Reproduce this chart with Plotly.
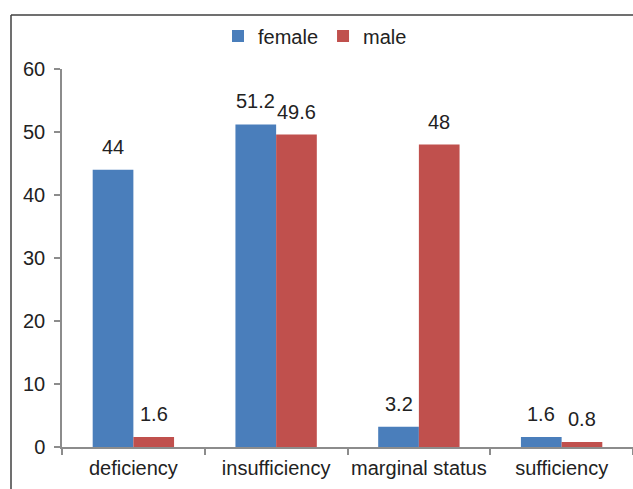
import plotly.graph_objects as go

categories = ["deficiency", "insufficiency", "marginal status", "sufficiency"]
female = [44, 51.2, 3.2, 1.6]
male = [1.6, 49.6, 48, 0.8]
y_ticks = [0, 10, 20, 30, 40, 50, 60]

W, H = 633, 489
plot_left, plot_right, plot_top, plot_bottom = 62, 633, 69, 447
L = plot_left
T = plot_top
R = W - plot_right
B = H - plot_bottom
pw = plot_right - plot_left
ph = plot_bottom - plot_top

font = dict(family="Liberation Sans, Arial, sans-serif", size=20, color="#222222")

fig = go.Figure()
fig.add_trace(go.Bar(name="female", x=categories, y=female, marker_color="#4A7EBB",
                     marker_line_width=0))
fig.add_trace(go.Bar(name="male", x=categories, y=male, marker_color="#C0504D",
                     marker_line_width=0))

bar_px = pw / len(categories) * (1 - 0.43) / 2
for vals, sh in ((female, -bar_px / 2), (male, bar_px / 2)):
    for c, v in zip(categories, vals):
        fig.add_annotation(x=c, y=v, text=f"{v:g}", showarrow=False, xshift=sh,
                           yanchor="bottom", yshift=10, font=font)

# frame lines (left and top)
fx = (11 - plot_left) / pw
fy = 1 + (plot_top - 15) / ph
fig.add_shape(type="line", xref="paper", yref="paper", x0=fx, x1=fx, y0=-0.2, y1=fy,
              line=dict(color="#404040", width=1.5))
fig.add_shape(type="line", xref="paper", yref="paper", x0=fx, x1=1.0, y0=fy, y1=fy,
              line=dict(color="#404040", width=1.5))

fig.update_layout(
    width=W, height=H,
    margin=dict(l=L, r=R, t=T, b=B, pad=0, autoexpand=False),
    paper_bgcolor="white", plot_bgcolor="white",
    barmode="group", bargap=0.43, bargroupgap=0,
    font=font,
    showlegend=True,
    legend=dict(orientation="h", x=(315 - plot_left) / pw, xanchor="center",
                y=1 + (plot_top - 36) / ph, yanchor="middle",
                font=font, itemwidth=30, traceorder="normal",
                bgcolor="rgba(0,0,0,0)"),
)
fig.update_xaxes(showline=True, linecolor="#8C8C8C", linewidth=1.5,
                 ticks="outside", tickson="boundaries", ticklen=6, tickcolor="#8C8C8C",
                 tickwidth=1.5, showgrid=False, tickfont=font, tickangle=0,
                 automargin=False, ticklabelstandoff=2)
fig.update_yaxes(range=[0, 60], tickvals=y_ticks, showline=True, linecolor="#8C8C8C",
                 linewidth=1.5, ticks="outside", ticklen=6, tickcolor="#8C8C8C",
                 tickwidth=1.5, showgrid=False, zeroline=False, tickfont=font,
                 automargin=False, ticklabelstandoff=5)

fig.write_html("out.html", config={"displayModeBar": False},
               post_script="document.body.style.margin='0';document.body.style.overflow='hidden';")
